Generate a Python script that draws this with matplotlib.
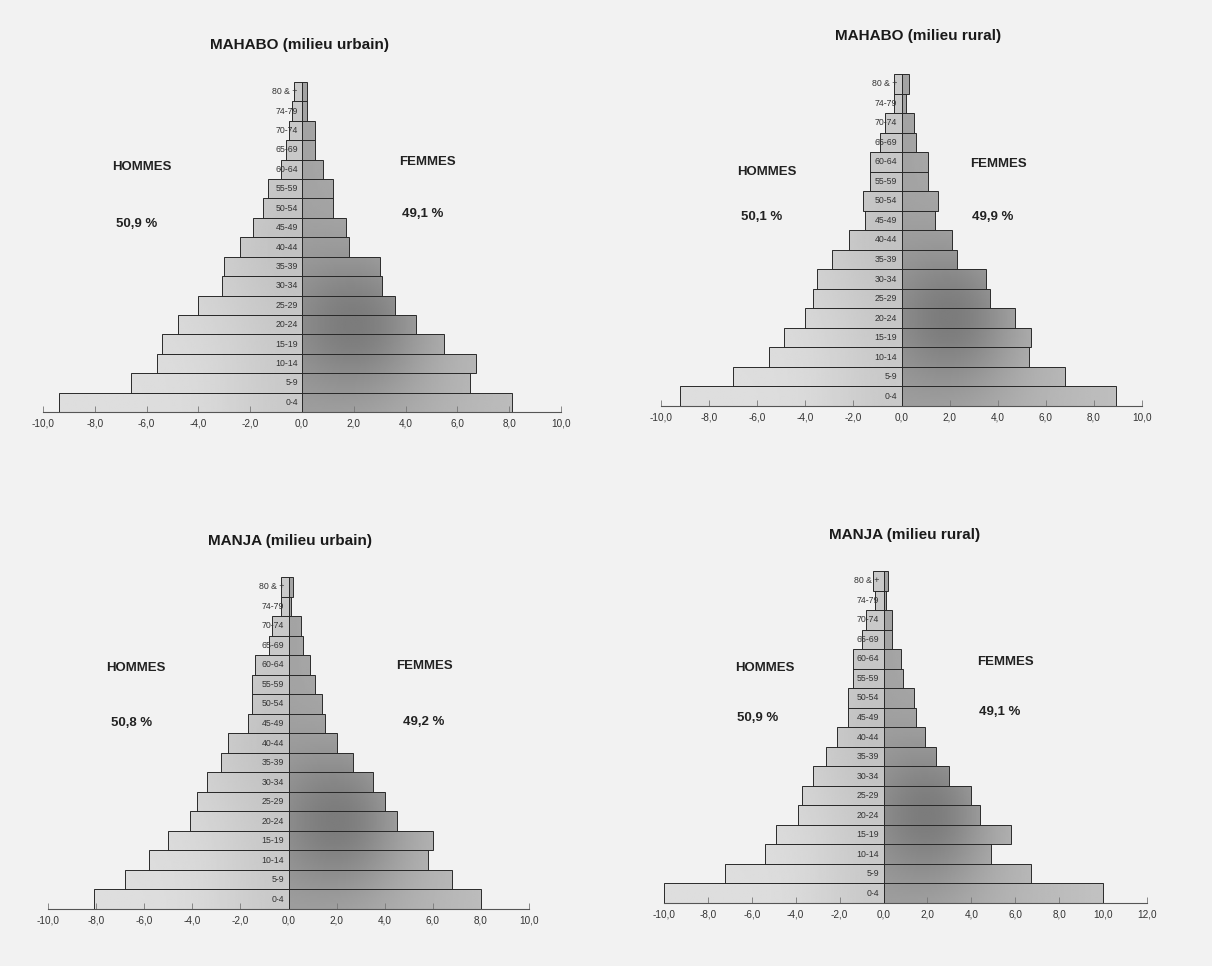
import numpy as np
import matplotlib
matplotlib.use("Agg")
import matplotlib.pyplot as plt
from matplotlib.path import Path
from matplotlib.patches import PathPatch
from matplotlib.ticker import FuncFormatter
import matplotlib.transforms as mtransforms

# ---------------- data ----------------
age_groups = ["0-4", "5-9", "10-14", "15-19", "20-24", "25-29", "30-34", "35-39",
              "40-44", "45-49", "50-54", "55-59", "60-64", "65-69", "70-74", "74-79", "80 & +"]

mahabo_urbain_hommes = [9.4, 6.6, 5.6, 5.4, 4.8, 4.0, 3.1, 3.0, 2.4, 1.9, 1.5, 1.3, 0.8, 0.6, 0.5, 0.4, 0.3]
mahabo_urbain_femmes = [8.1, 6.5, 6.7, 5.5, 4.4, 3.6, 3.1, 3.0, 1.8, 1.7, 1.2, 1.2, 0.8, 0.5, 0.5, 0.2, 0.2]

mahabo_rural_hommes = [9.2, 7.0, 5.5, 4.9, 4.0, 3.7, 3.5, 2.9, 2.2, 1.5, 1.6, 1.3, 1.3, 0.9, 0.7, 0.3, 0.3]
mahabo_rural_femmes = [8.9, 6.8, 5.3, 5.4, 4.7, 3.7, 3.5, 2.3, 2.1, 1.4, 1.5, 1.1, 1.1, 0.6, 0.5, 0.2, 0.3]

manja_urbain_hommes = [8.1, 6.8, 5.8, 5.0, 4.1, 3.8, 3.4, 2.8, 2.5, 1.7, 1.5, 1.5, 1.4, 0.8, 0.7, 0.3, 0.3]
manja_urbain_femmes = [8.0, 6.8, 5.8, 6.0, 4.5, 4.0, 3.5, 2.7, 2.0, 1.5, 1.4, 1.1, 0.9, 0.6, 0.5, 0.1, 0.2]

manja_rural_hommes = [10.0, 7.2, 5.4, 4.9, 3.9, 3.7, 3.2, 2.6, 2.1, 1.6, 1.6, 1.4, 1.4, 1.0, 0.8, 0.4, 0.5]
manja_rural_femmes = [10.0, 6.7, 4.9, 5.8, 4.4, 4.0, 3.0, 2.4, 1.9, 1.5, 1.4, 0.9, 0.8, 0.4, 0.4, 0.1, 0.2]

titles = ["MAHABO (milieu urbain)", "MAHABO (milieu rural)",
          "MANJA (milieu urbain)", "MANJA (milieu rural)"]
pct_hommes = ["50,9 %", "50,1 %", "50,8 %", "50,9 %"]
pct_femmes = ["49,1 %", "49,9 %", "49,2 %", "49,1 %"]
x_limits = [(-10, 10), (-10, 10), (-10, 10), (-10, 12)]

hommes = [mahabo_urbain_hommes, mahabo_rural_hommes, manja_urbain_hommes, manja_rural_hommes]
femmes = [mahabo_urbain_femmes, mahabo_rural_femmes, manja_urbain_femmes, manja_rural_femmes]

# ---------------- layout (pixels) ----------------
W, H = 1212, 966
BG = "#f2f2f2"
FONT = ["Liberation Sans", "DejaVu Sans"]
plt.rcParams["font.family"] = FONT

# (left px, right px, bottom px, top px)
panel_px = [(43, 561, 412, 82), (661, 1142, 406, 74),
            (48, 529, 909, 577), (664, 1147, 903, 571)]
title_px = [(300, 45), (918, 36), (290, 541), (905, 535)]
hommes_px = [(142, 167), (767, 172), (136, 668), (765, 668)]
hpct_px = [(137, 224), (762, 217), (132, 723), (758, 718)]
femmes_px = [(427, 162), (998, 164), (424, 666), (1005, 662)]
fpct_px = [(423, 214), (993, 217), (424, 722), (1000, 712)]

fig = plt.figure(figsize=(W / 100, H / 100), dpi=100, facecolor=BG)


def fx(px):
    return px / W


def fy(py):
    return 1 - py / H


def shade(ax, bars, xl, side):
    verts_paths = [b.get_path().transformed(b.get_patch_transform()) for b in bars]
    compound = Path.make_compound_path(*verts_paths)
    patch = PathPatch(compound, transform=ax.transData, facecolor="none", edgecolor="none")
    ax.add_patch(patch)
    X, Y = np.meshgrid(np.linspace(xl[0], xl[1], 300), np.linspace(-0.5, 16.5, 170))
    if side == "h":
        g = 0.87 - 0.08 * np.exp(-((X + 0.3) / 3.0) ** 2) - 0.03 * np.exp(-((Y - 8) / 4) ** 2)
    else:
        g = 0.64 + 0.012 * X - 0.18 * np.exp(-((X - 2.2) ** 2 / 7.0 + (Y - 4.0) ** 2 / 14.0))
    im = ax.imshow(g, extent=(xl[0], xl[1], -0.5, 16.5), origin="lower", cmap="gray",
                   vmin=0, vmax=1, aspect="auto", interpolation="bilinear", zorder=1)
    im.set_clip_path(patch)


fmt = FuncFormatter(lambda v, p: f"{v:.1f}".replace(".", ","))
y = np.arange(len(age_groups))

for i in range(4):
    l, r, b, t = panel_px[i]
    ax = fig.add_axes([fx(l), fy(b), (r - l) / W, (b - t) / H])
    ax.set_facecolor("none")
    xl = x_limits[i]
    ax.set_xlim(*xl)
    ax.set_ylim(-0.5, 16.5)

    hb = ax.barh(y, -np.array(hommes[i]), height=1.0, facecolor="none",
                 edgecolor="#2a2a2a", linewidth=0.7, zorder=3)
    fb = ax.barh(y, np.array(femmes[i]), height=1.0, facecolor="none",
                 edgecolor="#2a2a2a", linewidth=0.7, zorder=3)
    shade(ax, hb, xl, "h")
    shade(ax, fb, xl, "f")
    ax.axvline(0, color="#2a2a2a", linewidth=0.7, zorder=4)

    off = mtransforms.offset_copy(ax.transData, fig=fig, x=-3, y=0, units="points")
    for k, lab in enumerate(age_groups):
        ax.text(0, k, lab, transform=off, ha="right", va="center", fontsize=6.3,
                color="#333333", zorder=5)

    for s in ["left", "right", "top"]:
        ax.spines[s].set_visible(False)
    ax.spines["bottom"].set_color("#555555")
    ax.spines["bottom"].set_linewidth(0.8)
    ax.set_yticks([])
    ax.set_xticks(np.arange(xl[0], xl[1] + 0.1, 2))
    ax.xaxis.set_major_formatter(fmt)
    ax.tick_params(axis="x", direction="in", length=4, width=0.6, color="#777777",
                   labelsize=7.2, labelcolor="#333333", pad=5)

    fig.text(fx(title_px[i][0]), fy(title_px[i][1]), titles[i], ha="center", va="center",
             fontsize=11, fontweight="bold", color="#1a1a1a")
    fig.text(fx(hommes_px[i][0]), fy(hommes_px[i][1]), "HOMMES", ha="center", va="center",
             fontsize=9.5, fontweight="bold", color="#222222")
    fig.text(fx(hpct_px[i][0]), fy(hpct_px[i][1]), pct_hommes[i], ha="center", va="center",
             fontsize=9.5, fontweight="bold", color="#222222")
    fig.text(fx(femmes_px[i][0]), fy(femmes_px[i][1]), "FEMMES", ha="center", va="center",
             fontsize=9.5, fontweight="bold", color="#222222")
    fig.text(fx(fpct_px[i][0]), fy(fpct_px[i][1]), pct_femmes[i], ha="center", va="center",
             fontsize=9.5, fontweight="bold", color="#222222")

fig.savefig("out.png", dpi=100, facecolor=BG)
